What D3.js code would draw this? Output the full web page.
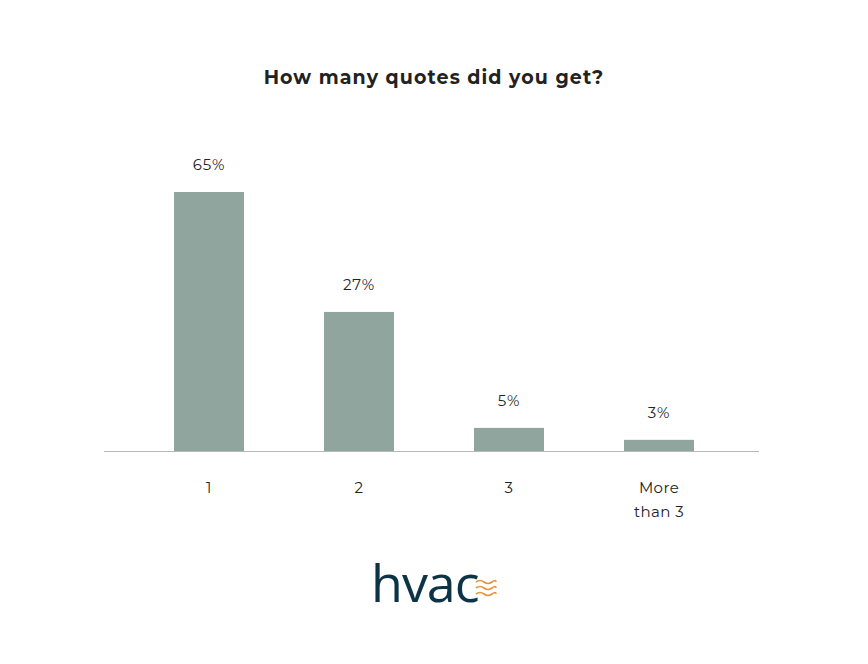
<!DOCTYPE html>
<html><head><meta charset="utf-8">
<script src="https://cdn.jsdelivr.net/npm/d3@7"></script>
<style>body{margin:0;background:#fff}svg{display:block}</style>
</head><body>
<svg id="c" width="868" height="664"></svg>
<script>
const categories = ["1", "2", "3", "More than 3"];
const barValues = [65, 34.9, 5.8, 2.8];
const valueLabels = ["65%", "27%", "5%", "3%"];
const title = "How many quotes did you get?";

const svg = d3.select("#c");
const font = "Montserrat, 'Open Sans', 'Noto Sans', sans-serif";

const x = d3.scaleBand().domain(categories).range([134, 734]).paddingInner(80/150).paddingOuter(40/150);
const y = d3.scaleLinear().domain([0, 65]).range([451, 192]);

svg.append("text").attr("x", 434).attr("y", 84).attr("text-anchor", "middle")
  .attr("font-family", font).attr("font-weight", 700).attr("font-size", 19)
  .attr("letter-spacing", 1.1).attr("fill", "#222").text(title);

svg.append("g").selectAll("rect").data(categories).join("rect")
  .attr("x", d => x(d)).attr("width", x.bandwidth())
  .attr("y", (d, i) => y(barValues[i])).attr("height", (d, i) => y(0) - y(barValues[i]))
  .attr("fill", "#8fa59d");

svg.append("line").attr("x1", 104).attr("x2", 759).attr("y1", 451.5).attr("y2", 451.5)
  .attr("stroke", "#b8b8b8").attr("stroke-width", 1.2);

svg.append("g").selectAll("text").data(categories).join("text")
  .attr("x", d => x(d) + x.bandwidth()/2)
  .attr("y", (d, i) => y(barValues[i]) - 22)
  .attr("text-anchor", "middle").attr("font-family", font).attr("font-size", 15)
  .attr("letter-spacing", 0.8).attr("fill", "#222").text((d, i) => valueLabels[i]);

const xa = svg.append("g").attr("transform", "translate(0,451)")
  .call(d3.axisBottom(x).tickSize(0).tickFormat(""));
xa.select(".domain").remove();
xa.selectAll(".tick").each(function(d) {
  const words = d === "More than 3" ? ["More", "than 3"] : [d];
  const t = d3.select(this).append("text").attr("text-anchor", "middle")
    .attr("font-family", font).attr("font-size", 15).attr("letter-spacing", 0.4).attr("fill", "#222");
  words.forEach((w, i) => t.append("tspan").attr("x", 0).attr("y", 42 + i * 24).text(w));
});

// logo
const logo = svg.append("g");
logo.append("text").attr("x", 371).attr("y", 602).attr("font-family", "'Open Sans', sans-serif")
  .attr("font-size", 52).attr("font-weight", 500).attr("fill", "#0d3346").attr("letter-spacing", -1).text("hvac");
const waves = [582, 588, 594];
waves.forEach(wy => {
  logo.append("path").attr("d", `M476,${wy} q4,-3 8,0 t8,0 t4,0`)
    .attr("fill", "none").attr("stroke", "#e8923a").attr("stroke-width", 1.6);
});
</script>
</body></html>
